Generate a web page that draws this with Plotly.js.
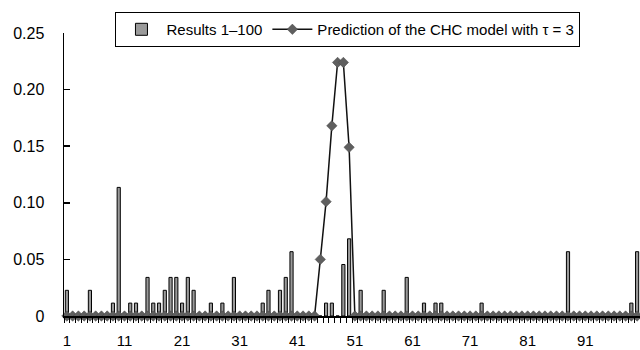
<!DOCTYPE html>
<html>
<head>
<meta charset="utf-8">
<script src="https://cdn.plot.ly/plotly-3.0.1.min.js"></script>
<style>html,body{margin:0;padding:0;background:#fff;}#chart{width:640px;height:350px;}</style>
</head>
<body>
<div id="chart"></div>
<script>
// Categories 1..100
const categories = Array.from({length: 100}, (_, i) => i + 1);

// Observed results (only non-zero positions listed; others are 0)
const resultPositions = [1, 5, 9, 10, 12, 13, 15, 16, 17, 18, 19, 20, 21, 22, 23, 26, 28, 30, 35, 36, 38, 39, 40, 46, 47, 49, 50, 52, 56, 60, 63, 65, 66, 73, 88, 99, 100];
const resultValues = [0.0227, 0.0227, 0.0114, 0.1136, 0.0114, 0.0114, 0.0341, 0.0114, 0.0114, 0.0227, 0.0341, 0.0341, 0.0114, 0.0341, 0.0227, 0.0114, 0.0114, 0.0341, 0.0114, 0.0227, 0.0227, 0.0341, 0.0568, 0.0114, 0.0114, 0.0455, 0.0682, 0.0227, 0.0227, 0.0341, 0.0114, 0.0114, 0.0114, 0.0114, 0.0568, 0.0114, 0.0568];

// CHC model prediction (non-zero positions; others are 0)
const predPositions = [45, 46, 47, 48, 49, 50];
const predValues = [0.050, 0.101, 0.168, 0.224, 0.224, 0.149];

const xTickVals = [1, 11, 21, 31, 41, 51, 61, 71, 81, 91];
const yTickVals = [0, 0.05, 0.10, 0.15, 0.20, 0.25];
const yTickText = ['0', '0.05', '0.10', '0.15', '0.20', '0.25'];

const results = categories.map(c => { const k = resultPositions.indexOf(c); return k >= 0 ? resultValues[k] : 0; });
const prediction = categories.map(c => { const k = predPositions.indexOf(c); return k >= 0 ? predValues[k] : 0; });

const font = 'Liberation Sans, Arial, Helvetica, sans-serif';

const data = [
  {
    type: 'bar', x: categories, y: results, name: 'Results 1–100',
    marker: {color: '#9a9a9a', line: {color: '#000', width: 1}},
    cliponaxis: false
  },
  {
    type: 'scatter', mode: 'lines+markers', x: categories, y: prediction,
    name: 'Prediction of the CHC model with τ = 3',
    line: {color: '#111', width: 1.5},
    marker: {symbol: 'diamond', size: 8, color: '#5f5f5f', line: {color: '#444', width: 0.5}},
    cliponaxis: false
  }
];

const layout = {
  width: 640, height: 350,
  margin: {l: 64, r: 0, t: 33, b: 34},
  paper_bgcolor: '#fff', plot_bgcolor: '#fff',
  font: {family: font, size: 14, color: '#000'},
  bargap: 0.45,
  showlegend: true,
  legend: {
    orientation: 'h', x: 0.493, xanchor: 'center', y: 1.074, yanchor: 'top',
    bgcolor: '#fff', bordercolor: '#000', borderwidth: 1,
    font: {family: font, size: 15, color: '#000'},
    itemwidth: 40, tracegroupgap: 0
  },
  xaxis: {
    range: [0.5, 100.5], showgrid: false, zeroline: false,
    showline: true, linecolor: '#000', linewidth: 1.5,
    tickmode: 'array', tickvals: xTickVals, ticks: '',
    ticklabelstandoff: 10,
    minor: {tick0: 0.5, dtick: 1, ticks: 'outside', ticklen: 5, tickcolor: '#000', tickwidth: 1, showgrid: false},
    tickfont: {family: font, size: 15, color: '#000'}
  },
  yaxis: {
    range: [0, 0.25], showgrid: false, zeroline: false,
    showline: true, linecolor: '#000', linewidth: 1.5,
    tickmode: 'array', tickvals: yTickVals, ticktext: yTickText,
    ticks: 'inside', ticklen: 6, tickcolor: '#000', tickwidth: 1.5,
    ticklabelstandoff: 15,
    tickfont: {family: font, size: 16, color: '#000'}
  }
};

Plotly.newPlot('chart', data, layout, {displayModeBar: false, staticPlot: true});
</script>
</body>
</html>
